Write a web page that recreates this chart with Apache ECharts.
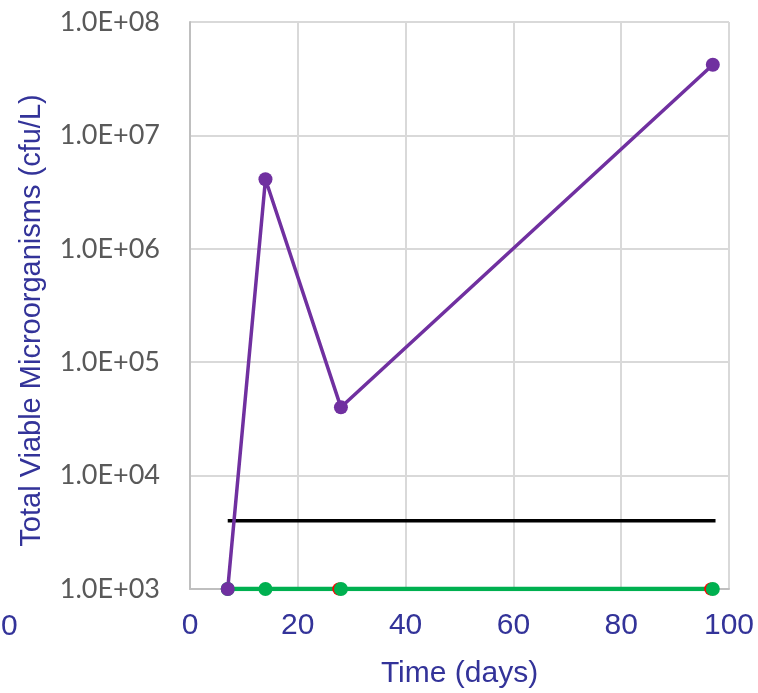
<!DOCTYPE html>
<html>
<head>
<meta charset="utf-8">
<script src="https://cdn.jsdelivr.net/npm/echarts@6/dist/echarts.min.js"></script>
<style>
  html, body { margin: 0; padding: 0; background: #fff; }
  #chart { width: 758px; height: 693px; }
</style>
</head>
<body>
<div id="chart"></div>
<script>
// Values (days, cfu/L)
const purpleDays = [7, 14, 28, 97];
const purpleCounts = [1000, 4100000, 40000, 42000000];
const greenDays = [7, 14, 28, 97];
const greenCounts = [1000, 1000, 1000, 1000];
const redDays = [27.6, 96.6];
const redCounts = [1000, 1000];
const limitDays = [7, 97.5];
const limitCounts = [4000, 4000];

const xTicks = { min: 0, max: 100, interval: 20 };
const yRange = { min: 1e3, max: 1e8 };

const AXIS_BLUE = '#333399';
const pairs = (xs, ys) => xs.map((x, i) => [x, ys[i]]);

const fmtExp = (v) => {
  const p = Math.round(Math.log10(v));
  return '1.0E+' + String(p).padStart(2, '0');
};

const chart = echarts.init(document.getElementById('chart'));

chart.setOption({
  animation: false,
  grid: { left: 190, right: 29, top: 22, bottom: 104, containLabel: false, outerBoundsMode: 'none' },
  xAxis: {
    type: 'value',
    min: xTicks.min,
    max: xTicks.max,
    interval: xTicks.interval,
    name: 'Time (days)',
    nameLocation: 'middle',
    nameGap: 70,
    nameTextStyle: { color: AXIS_BLUE, fontSize: 30, fontFamily: 'Liberation Sans' },
    axisLine: { lineStyle: { color: '#bfbfbf', width: 2 } },
    axisTick: { show: false },
    axisLabel: { color: AXIS_BLUE, fontSize: 30, fontFamily: 'Liberation Sans', margin: 22 },
    splitLine: { lineStyle: { color: '#d9d9d9', width: 2 } },
  },
  yAxis: {
    type: 'log',
    logBase: 10,
    min: yRange.min,
    max: yRange.max,
    name: 'Total Viable Microorganisms (cfu/L)',
    nameLocation: 'middle',
    nameGap: 144,
    nameRotate: 90,
    nameTextStyle: { color: AXIS_BLUE, fontSize: 29, fontFamily: 'Liberation Sans', padding: [0, 30, 0, 0] },
    axisLine: { show: true, lineStyle: { color: '#bfbfbf', width: 2 } },
    axisTick: { show: false },
    axisLabel: { color: '#595959', fontSize: 27, fontFamily: 'Lato', margin: 30, formatter: fmtExp },
    splitLine: { lineStyle: { color: '#d9d9d9', width: 2 } },
  },
  graphic: [
    {
      type: 'text',
      left: 1,
      top: 612,
      style: { text: '0', fill: AXIS_BLUE, font: '30px "Liberation Sans"' },
    },
  ],
  series: [
    {
      name: 'Red',
      type: 'line',
      data: pairs(redDays, redCounts),
      symbol: 'circle',
      symbolSize: 13,
      itemStyle: { color: '#ff0000' },
      lineStyle: { color: '#ff0000', width: 4 },
    },
    {
      name: 'Green',
      type: 'line',
      data: pairs(greenDays, greenCounts),
      symbol: 'circle',
      symbolSize: 14,
      itemStyle: { color: '#00b050' },
      lineStyle: { color: '#00b050', width: 4.5 },
    },
    {
      name: 'Limit',
      type: 'line',
      data: pairs(limitDays, limitCounts),
      showSymbol: false,
      lineStyle: { color: '#000000', width: 3.5 },
    },
    {
      name: 'Purple',
      type: 'line',
      data: pairs(purpleDays, purpleCounts),
      symbol: 'circle',
      symbolSize: 14,
      itemStyle: { color: '#7030a0' },
      lineStyle: { color: '#7030a0', width: 3.5 },
    },
  ],
});
</script>
</body>
</html>
